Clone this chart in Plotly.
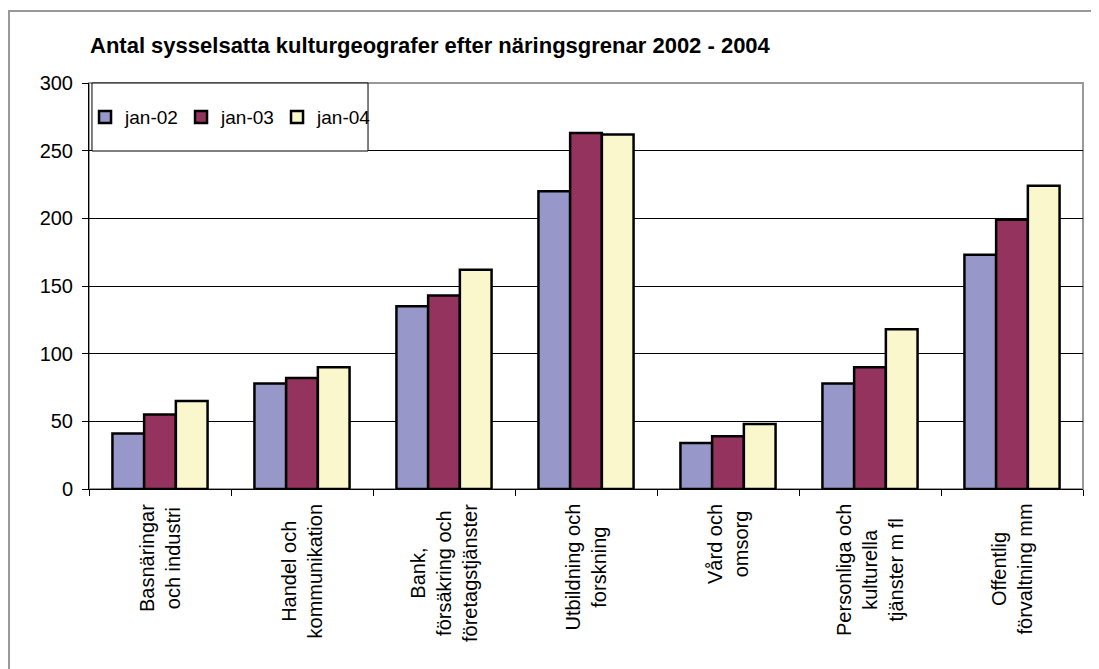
import plotly.graph_objects as go

# Data
categories = [
    "Basnäringar<br>och industri",
    "Handel och<br>kommunikation",
    "Bank,<br>försäkring och<br>företagstjänster",
    "Utbildning och<br>forskning",
    "Vård och<br>omsorg",
    "Personliga och<br>kulturella<br>tjänster m fl",
    "Offentlig<br>förvaltning mm",
]
series_names = ["jan-02", "jan-03", "jan-04"]
jan02 = [41, 78, 135, 220, 34, 78, 173]
jan03 = [55, 82, 143, 263, 39, 90, 199]
jan04 = [65, 90, 162, 262, 48, 118, 224]
y_ticks = [0, 50, 100, 150, 200, 250, 300]

colors = ["#9797C9", "#95335F", "#FAF7CD"]
font_family = "Liberation Sans, Arial, sans-serif"

fig = go.Figure()
for name, vals, col in zip(series_names, [jan02, jan03, jan04], colors):
    fig.add_trace(go.Bar(
        x=categories, y=vals, name=name,
        marker=dict(color=col, line=dict(color="black", width=2.5)),
    ))

# category labels drawn as rotated, centred text under each group
for cat in categories:
    fig.add_annotation(
        x=cat, y=-0.032, xref="x", yref="paper",
        text=cat, textangle=-90, showarrow=False,
        xanchor="center", yanchor="top", align="center",
        font=dict(family=font_family, size=20, color="black"),
    )

# outer chart border, plot area border and legend box
fig.add_shape(type="rect", xref="paper", yref="paper",
              x0=-0.0805, x1=1.2, y0=-1.0, y1=1.1773,
              line=dict(color="#999999", width=2), layer="below")
fig.add_shape(type="rect", xref="paper", yref="paper",
              x0=0, x1=1, y0=0, y1=1,
              line=dict(color="#999999", width=2), layer="below")
fig.add_shape(type="rect", xref="paper", yref="paper",
              x0=0.003, x1=0.2807, y0=0.8325, y1=1,
              line=dict(color="black", width=1), fillcolor="white", layer="above")

fig.update_layout(
    width=1091, height=661,
    margin=dict(l=81, r=16, t=75, b=180),
    paper_bgcolor="white", plot_bgcolor="white",
    font=dict(family=font_family, size=20, color="black"),
    title=dict(
        text="<b>Antal sysselsatta kulturgeografer efter näringsgrenar 2002 - 2004</b>",
        x=82 / 1091, xanchor="left", xref="container",
        y=1 - 37 / 661, yanchor="middle", yref="container",
        font=dict(family=font_family, size=22, color="black"),
    ),
    barmode="group", bargap=0.33, bargroupgap=0,
    showlegend=True,
    legend=dict(
        orientation="h", x=-0.004, y=0.916, xanchor="left", yanchor="middle",
        bgcolor="rgba(0,0,0,0)", borderwidth=0, entrywidth=51,
        font=dict(family=font_family, size=19, color="black"),
    ),
    xaxis=dict(
        showticklabels=False, ticks="outside", ticklen=6, tickcolor="black",
        tickson="boundaries", showline=True, linecolor="black", linewidth=1,
        showgrid=False, zeroline=False,
    ),
    yaxis=dict(
        range=[0, 300], tickvals=y_ticks, ticks="outside", ticklen=6,
        tickcolor="black", showline=True, linecolor="black", linewidth=1,
        showgrid=True, gridcolor="black", gridwidth=1, zeroline=False,
        ticklabelstandoff=5,
        tickfont=dict(family=font_family, size=20, color="black"),
    ),
)

fig.write_html("out.html")
